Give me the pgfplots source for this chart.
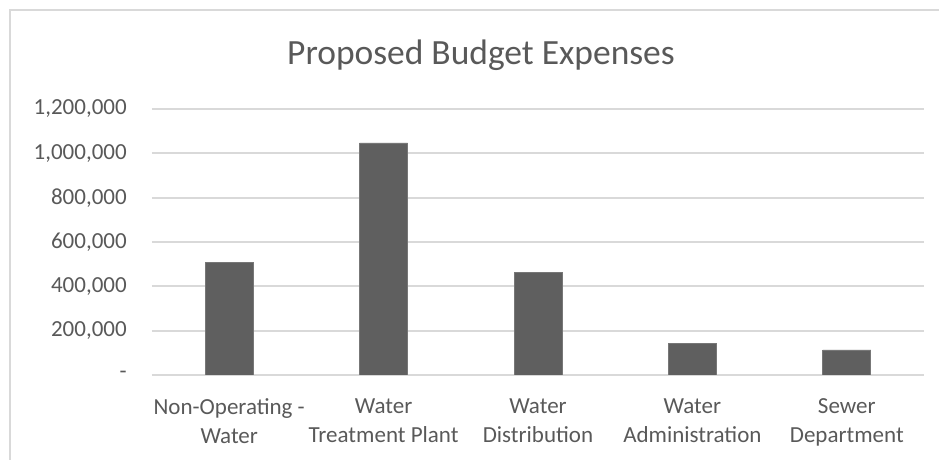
\documentclass[border=0pt]{standalone}
\usepackage{pgfplots}
\pgfplotsset{compat=1.18}
\usepackage{fontspec}
\setmainfont{Carlito}
\definecolor{bargray}{HTML}{5F5F5F}
\definecolor{gridgray}{HTML}{D9D9D9}
\definecolor{textgray}{HTML}{595959}
\begin{document}
\begin{tikzpicture}[x=0.75pt,y=0.75pt]
% picture measured in pixels of the reference (939 x 460)
\useasboundingbox (0,0) rectangle (939,460);
\draw[gridgray, line width=1.5pt] (10,0) -- (10,450) -- (939,450);
\node[anchor=base, text=textgray, font=\fontsize{26.6}{30}\selectfont] at (481,395) {Proposed Budget Expenses};
\begin{axis}[
    at={(114pt,63.75pt)}, anchor=south west,
    scale only axis,
    width=579pt, height=199.5pt,
    xmin=-0.5, xmax=4.5,
    ymin=0, ymax=1200000,
    scaled y ticks=false,
    axis line style={draw=none},
    major tick length=0pt,
    ymajorgrids,
    grid style={gridgray, line width=1.5pt},
    ytick={0,200000,400000,600000,800000,1000000,1200000},
    yticklabels={{-\hspace{10.5pt}},{200,000},{400,000},{600,000},{800,000},{1,000,000},{1,200,000}},
    xtick={0,1,2,3,4},
    xticklabels={{Non-Operating -\\Water},{Water\\Treatment Plant},{Water\\Distribution},{Water\\Administration},{Sewer\\Department}},
    tick label style={text=textgray, font=\fontsize{17.25}{21.75}\selectfont},
    yticklabel style={anchor=east, inner sep=0pt, xshift=-18.75pt},
    xticklabel style={align=center, anchor=north, inner sep=0pt, yshift=-17.5pt},
    ybar, bar width=36pt,
]
\addplot[fill=bargray, draw=bargray!85!white, line width=0.5pt] coordinates {
    (0,507000)
    (1,1047000)
    (2,462000)
    (3,143000)
    (4,113000)
};
\end{axis}
\end{tikzpicture}
\end{document}
